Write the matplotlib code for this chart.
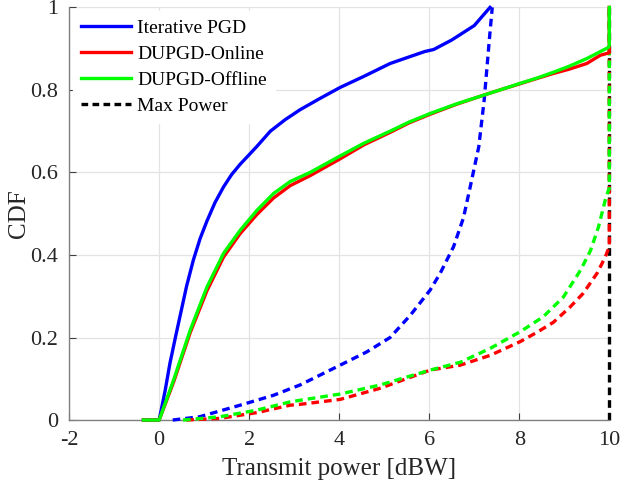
import matplotlib
matplotlib.use("Agg")
import matplotlib.pyplot as plt

plt.rcParams['font.family'] = ['Liberation Serif', 'DejaVu Serif']

# Iterative PGD (solid)
pgd_x = [-0.35, 0, 0.13, 0.24, 0.36, 0.47, 0.61, 0.76, 0.91, 1.06, 1.24, 1.43, 1.61, 1.8, 1.99, 2.17, 2.47, 2.8, 3.13, 3.55, 4.02, 4.55, 5.13, 5.5, 5.9, 6.1, 6.5, 7.0, 7.35]
pgd_y = [0, 0, 0.07, 0.138, 0.2, 0.255, 0.325, 0.388, 0.44, 0.482, 0.527, 0.565, 0.595, 0.62, 0.642, 0.663, 0.70, 0.728, 0.752, 0.778, 0.806, 0.833, 0.864, 0.878, 0.893, 0.898, 0.921, 0.956, 1.0]
# DUPGD-Online (solid)
on_x = [-0.35, 0, 0.32, 0.69, 1.06, 1.43, 1.8, 2.17, 2.54, 2.91, 3.35, 4.02, 4.55, 5.13, 5.55, 6.02, 6.6, 7.2, 7.6, 8.02, 8.4, 8.76, 9.1, 9.5, 9.8, 10, 10]
on_y = [0, 0, 0.092, 0.212, 0.313, 0.395, 0.452, 0.498, 0.538, 0.568, 0.592, 0.633, 0.667, 0.697, 0.72, 0.741, 0.765, 0.787, 0.801, 0.815, 0.828, 0.840, 0.850, 0.864, 0.884, 0.89, 1.0]
# DUPGD-Offline (solid)
off_x = [-0.35, 0, 0.32, 0.69, 1.06, 1.43, 1.8, 2.17, 2.54, 2.91, 3.35, 4.02, 4.55, 5.13, 5.55, 6.02, 6.6, 7.2, 7.6, 8.02, 8.4, 8.76, 9.1, 9.5, 9.98, 10, 10]
off_y = [0, 0, 0.097, 0.218, 0.322, 0.404, 0.46, 0.508, 0.549, 0.578, 0.600, 0.640, 0.671, 0.70, 0.722, 0.743, 0.766, 0.787, 0.801, 0.816, 0.829, 0.843, 0.857, 0.876, 0.903, 0.908, 1.0]
# Iterative PGD (dashed)
pgd_d_x = [0.3, 0.9, 1.8, 2.54, 3.13, 4.02, 4.61, 5.13, 5.58, 6.02, 6.24, 6.54, 6.76, 6.91, 7.1, 7.22, 7.34, 7.4]
pgd_d_y = [0, 0.008, 0.036, 0.06, 0.085, 0.133, 0.165, 0.2, 0.254, 0.315, 0.355, 0.42, 0.49, 0.565, 0.662, 0.775, 0.928, 1.0]
# DUPGD-Online (dashed)
on_d_x = [0.6, 1.35, 2.17, 2.91, 3.13, 4.02, 4.91, 6.02, 6.69, 7.36, 8.02, 8.4, 8.76, 9.13, 9.42, 9.73, 9.91, 10, 10]
on_d_y = [0, 0.004, 0.018, 0.036, 0.038, 0.05, 0.077, 0.121, 0.133, 0.157, 0.19, 0.213, 0.237, 0.274, 0.307, 0.356, 0.395, 0.42, 1.0]
# DUPGD-Offline (dashed)
off_d_x = [0.53, 1.35, 2.17, 2.91, 3.13, 4.02, 4.91, 6.02, 6.69, 7.36, 8.02, 8.53, 8.98, 9.36, 9.58, 9.76, 9.91, 9.98, 10, 10]
off_d_y = [0, 0.008, 0.024, 0.044, 0.048, 0.063, 0.085, 0.121, 0.14, 0.174, 0.214, 0.25, 0.298, 0.363, 0.41, 0.468, 0.533, 0.557, 0.56, 1.0]
# Max power
max_x = [10, 10]
max_y = [0, 1]

xticks = [-2, 0, 2, 4, 6, 8, 10]
yticks = [0, 0.2, 0.4, 0.6, 0.8, 1]
ytick_labels = ['0', '0.2', '0.4', '0.6', '0.8', '1']

fig = plt.figure(figsize=(6.23, 4.93), dpi=100)
ax = fig.add_axes([0.111, 0.148, 0.867, 0.837])

lw = 2.4
dash = (2.3, 1.5)
ax.plot(max_x, max_y, color='black', lw=lw, dashes=dash, clip_on=False, zorder=2)
ax.plot(pgd_d_x, pgd_d_y, color='#0000ff', lw=lw, dashes=dash, clip_on=False, zorder=3)
ax.plot(on_d_x, on_d_y, color='#ff0000', lw=lw, dashes=dash, clip_on=False, zorder=3)
ax.plot(off_d_x, off_d_y, color='#00ff00', lw=lw, dashes=dash, clip_on=False, zorder=3)
l1, = ax.plot(pgd_x, pgd_y, color='#0000ff', lw=lw, clip_on=False, zorder=4)
l2, = ax.plot(on_x, on_y, color='#ff0000', lw=lw, clip_on=False, zorder=4)
l3, = ax.plot(off_x, off_y, color='#00ff00', lw=lw, clip_on=False, zorder=4)
l4, = ax.plot([], [], color='black', lw=lw, dashes=(2.0, 1.3))

ax.set_xlim(-2, 10)
ax.set_ylim(0, 1)
ax.set_xticks(xticks)
ax.set_xticklabels([str(t) for t in xticks])
ax.set_yticks(yticks)
ax.set_yticklabels(ytick_labels)
ax.grid(True, color='#e3e3e3', lw=0.9)
ax.set_axisbelow(True)
for s in ['top', 'right']:
    ax.spines[s].set_visible(False)
for s in ['left', 'bottom']:
    ax.spines[s].set_color('#808080')
    ax.spines[s].set_linewidth(1.0)
ax.tick_params(direction='in', length=5, color='#404040', labelsize=16, labelcolor='#262626', pad=8)

ax.set_xlabel('Transmit power [dBW]', fontsize=18, color='#262626', labelpad=6)
ax.set_ylabel('CDF', fontsize=18, color='#262626', labelpad=0)

leg = ax.legend([l1, l2, l3, l4], ['Iterative PGD', 'DUPGD-Online', 'DUPGD-Offline', 'Max Power'],
                loc='upper left', bbox_to_anchor=(0.0, 1.0), frameon=True, fontsize=14,
                handlelength=2.6, handletextpad=0.3, labelspacing=0.44, borderaxespad=0.2,
                borderpad=0.4)
leg.get_frame().set_edgecolor('white')
leg.get_frame().set_facecolor('white')
leg.get_frame().set_alpha(1.0)
leg.get_frame().set_boxstyle('square', pad=0)

fig.savefig('out.png', dpi=100)
